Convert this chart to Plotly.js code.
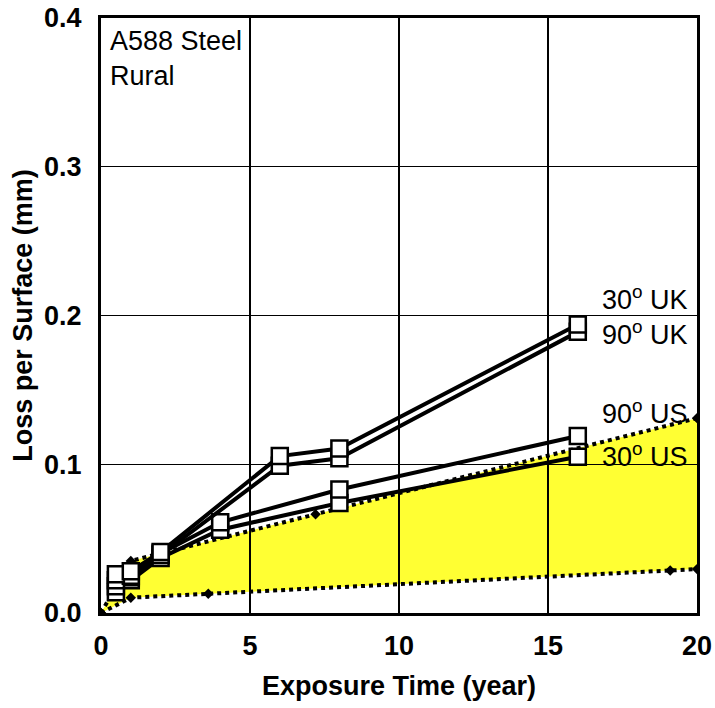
<!DOCTYPE html>
<html>
<head>
<meta charset="utf-8">
<script src="https://cdn.plot.ly/plotly-3.0.1.min.js"></script>
<style>
  html, body { margin: 0; padding: 0; background: #ffffff; }
  #chart { width: 715px; height: 708px; }
</style>
</head>
<body>
<div id="chart"></div>
<script>
// Atmospheric corrosion of A588 weathering steel, rural site:
// loss per surface (mm) against exposure time (years).

// Measured series (exposure time in years, loss in mm)
const ukTime = [0.5, 1, 2, 6, 8, 16];
const uk30 = [0.026, 0.028, 0.041, 0.1055, 0.1106, 0.194];
const uk90 = [0.022, 0.025, 0.039, 0.099, 0.104, 0.189];

const usTime = [0.5, 1, 2, 4, 8, 16];
const us90 = [0.018, 0.024, 0.040, 0.061, 0.083, 0.119];
const us30 = [0.014, 0.022, 0.037, 0.056, 0.074, 0.105];

const seriesNames = ['30<sup>o</sup> UK', '90<sup>o</sup> UK', '90<sup>o</sup> US', '30<sup>o</sup> US'];

// Bounds of the shaded band
const upperTime = [0, 1, 7.2, 20];
const upperLoss = [0, 0.035, 0.0664, 0.131];
const lowerTime = [0, 1, 3.6, 19.1, 20];
const lowerLoss = [0, 0.0103, 0.0129, 0.0286, 0.0295];

// Axis ticks
const xTicks = [0, 5, 10, 15, 20];
const yTicks = [0.0, 0.1, 0.2, 0.3, 0.4];
const yTickText = ['0.0', '0.1', '0.2', '0.3', '0.4'];

const FONT = 'Liberation Sans, Arial, Helvetica, sans-serif';
const YELLOW = '#ffff33';

// Yellow band lives on the bottom subplot so the grid of the top one sits over it
const bandFill = [
  { x: lowerTime, y: lowerLoss, xaxis: 'x', yaxis: 'y', mode: 'lines',
    line: { width: 0, color: YELLOW }, hoverinfo: 'skip', showlegend: false },
  { x: upperTime, y: upperLoss, xaxis: 'x', yaxis: 'y', mode: 'lines',
    fill: 'tonexty', fillcolor: YELLOW,
    line: { width: 0, color: YELLOW }, hoverinfo: 'skip', showlegend: false }
];

const boundLine = (x, y) => ({
  x, y, xaxis: 'x2', yaxis: 'y2', mode: 'lines+markers',
  line: { color: '#000000', width: 4, dash: 'dot' },
  marker: { symbol: 'diamond', size: 8, color: '#000000' },
  hoverinfo: 'skip', showlegend: false
});

const measured = (x, y, name) => ({
  x, y, name, xaxis: 'x2', yaxis: 'y2', mode: 'lines+markers',
  line: { color: '#000000', width: 4 },
  marker: { symbol: 'square', size: 16, color: '#ffffff',
            line: { color: '#000000', width: 2.5 } },
  showlegend: false
});

const data = [
  ...bandFill,
  boundLine(lowerTime, lowerLoss),
  boundLine(upperTime, upperLoss),
  measured(usTime, us30, seriesNames[3]),
  measured(usTime, us90, seriesNames[2]),
  measured(ukTime, uk90, seriesNames[1]),
  measured(ukTime, uk30, seriesNames[0])
];

const hiddenAxis = (range) => ({
  range, visible: false, fixedrange: true, domain: [0, 1]
});

const boldFont = { family: FONT, size: 27, color: '#000000', weight: 'bold' };

const shownAxis = (extra) => Object.assign({
  showgrid: true, gridcolor: '#000000', gridwidth: 1.3,
  showline: true, linecolor: '#000000', linewidth: 3, mirror: true,
  ticks: '', zeroline: false, fixedrange: true, domain: [0, 1],
  tickfont: boldFont
}, extra);

const labelFont = { family: FONT, size: 27, color: '#000000' };

// Right-hand series labels
const labelRows = [
  { text: seriesNames[0], y: 0.212 },
  { text: seriesNames[1], y: 0.188 },
  { text: seriesNames[2], y: 0.135 },
  { text: seriesNames[3], y: 0.106 }
];

const annotations = labelRows.map(r => ({
  text: r.text, xref: 'x2', yref: 'y2', x: 16.75, y: r.y,
  xanchor: 'left', yanchor: 'middle', showarrow: false, font: labelFont
}));
annotations.push({
  text: 'A588 Steel<br>Rural', xref: 'paper', yref: 'paper', x: 0.012, y: 0.99,
  xanchor: 'left', yanchor: 'top', align: 'left', showarrow: false, font: labelFont
});

const layout = {
  width: 715, height: 708,
  margin: { l: 101, r: 18, t: 18, b: 95 },
  paper_bgcolor: '#ffffff', plot_bgcolor: 'rgba(0,0,0,0)',
  showlegend: false,
  xaxis: hiddenAxis([0, 20]),
  yaxis: hiddenAxis([0, 0.4]),
  xaxis2: shownAxis({
    anchor: 'y2', range: [0, 20], tickvals: xTicks, ticklabelstandoff: 7,
    title: { text: 'Exposure Time (year)', standoff: 16, font: boldFont }
  }),
  yaxis2: shownAxis({
    anchor: 'x2', range: [0, 0.4], tickvals: yTicks, ticktext: yTickText,
    ticklabelstandoff: 11,
    title: { text: 'Loss per Surface (mm)', standoff: 4, font: boldFont }
  }),
  annotations
};

Plotly.newPlot('chart', data, layout, { staticPlot: true, displayModeBar: false });
</script>
</body>
</html>
